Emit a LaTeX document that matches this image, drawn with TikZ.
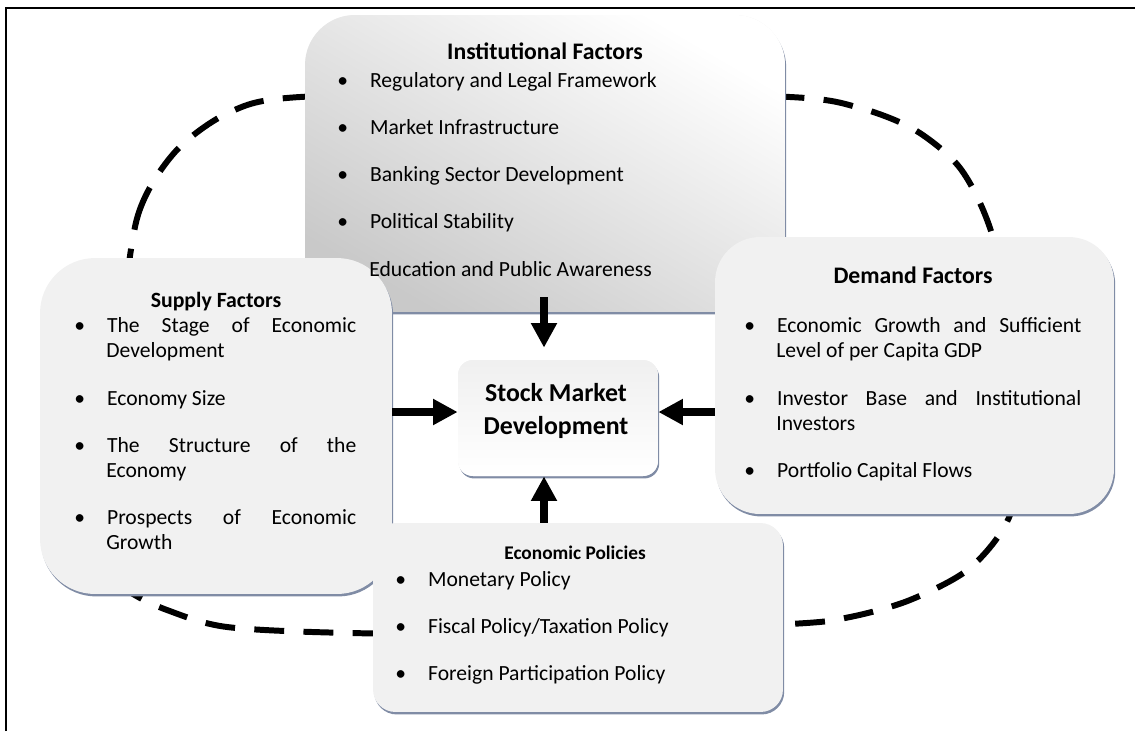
\documentclass[tikz,border=0pt]{standalone}
\usepackage{fontspec}
\setmainfont{Carlito}
\usepackage{enumitem}
\usetikzlibrary{shadows,calc,arrows.meta}

\definecolor{edgeblue}{RGB}{128,140,165}
\definecolor{panelgray}{RGB}{241,241,241}

\setlist[itemize]{label=\textbullet, leftmargin=0.64cm, labelwidth=0.2cm,
  labelsep=0.44cm, align=left, itemsep=12.4pt, parsep=0pt, topsep=0pt, partopsep=0pt}
\hyphenpenalty=10000
\exhyphenpenalty=10000

\newcommand{\bodysize}{\fontsize{12.3}{14.4}\selectfont}

\tikzset{
  panel/.style={rounded corners=0.9cm, fill=panelgray,
    general shadow={shadow xshift=0.7pt, shadow yshift=-1.4pt, fill=edgeblue}},
  ring/.style={line width=3.4pt, dash pattern=on 17pt off 11pt},
  bigarrow/.style={line width=4pt, -{Triangle[width=14pt,length=14pt]}},
  heading/.style={anchor=base, inner sep=0pt},
  itemlist/.style={anchor=north west, inner sep=0pt, align=justify, font=\bodysize}
}

\begin{document}
\begin{tikzpicture}[x=0.02cm, y=-0.02cm]
\useasboundingbox (0,0) rectangle (1135,731);

% Frame
\draw[line width=1.2pt] (6,731) -- (6,8) -- (1135,8);

% Dashed ring behind the boxes
\draw[ring] plot[smooth cycle] coordinates {
  (120,330) (138,215) (175,152) (230,112) (300,97) (545,92) (790,97)
  (860,108) (915,130) (960,168) (990,228) (1015,330) (1022,430)
  (1010,515) (970,568) (910,600) (850,617) (790,624) (545,634)
  (350,633) (227,627) (167,610) (130,592) (105,568) (93,545) (100,450)};

% Boxes
\node[panel, rounded corners=1cm, minimum width=9.6cm, minimum height=5.94cm,
  top color=white, bottom color=black!21, shading angle=-30] (inst) at (545,163.5) {};
\node[panel, rounded corners=1.1cm, minimum width=7.04cm, minimum height=6.72cm] (supply) at (216,426) {};
\node[panel, rounded corners=0.9cm, minimum width=7.98cm, minimum height=5.54cm] (demand) at (914.5,375.5) {};
\node[panel, rounded corners=0.45cm, minimum width=8.2cm, minimum height=3.78cm] (econ) at (578,617.5) {};
\node[panel, rounded corners=0.3cm, minimum width=4cm, minimum height=2.32cm,
  top color=gray!12, bottom color=white] (smd) at (558,418) {};
\node[align=center, inner sep=0pt, font=\bfseries\fontsize{14.7}{18.8}\selectfont]
  (smdlabel) at (556,411) {Stock Market\\Development};

% Arrows into the centre
\coordinate (hub) at (544,412);
\draw[bigarrow] ($(inst.south -| hub)+(0,-15)$) -- ($(smd.north -| hub)+(0,-12)$);
\draw[bigarrow] (supply.east |- hub) -- (smd.west |- hub);
\draw[bigarrow] (demand.west |- hub) -- (smd.east |- hub);
\draw[bigarrow] (econ.north -| hub) -- (smd.south -| hub);

% Institutional factors
\node[heading, font=\bfseries\fontsize{13.5}{16}\selectfont] (insttitle) at (545,59) {Institutional Factors};
\node[itemlist, text width=8cm] (instlist) at (337,62) {\begin{itemize}
  \item Regulatory and Legal Framework
  \item Market Infrastructure
  \item Banking Sector Development
  \item Political Stability
  \item[] Education and Public Awareness
\end{itemize}};

% Supply factors
\node[heading, font=\bfseries\fontsize{12.4}{15}\selectfont] (supplytitle) at (216,307) {Supply Factors};
\node[itemlist, text width=5.64cm] (supplylist) at (74,307) {\begin{itemize}
  \item The Stage of Economic\linebreak Development
  \item Economy Size
  \item The Structure of the\linebreak Economy
  \item Prospects of Economic\linebreak Growth
\end{itemize}};

% Demand factors
\node[heading, font=\bfseries\fontsize{13.5}{16}\selectfont] (demandtitle) at (913,283) {Demand Factors};
\node[itemlist, text width=6.74cm] (demandlist) at (744,307) {\begin{itemize}
  \item Economic Growth and Sufficient\linebreak Level of per Capita GDP
  \item Investor Base and Institutional\linebreak Investors
  \item Portfolio Capital Flows
\end{itemize}};

% Economic policies
\node[heading, font=\bfseries\fontsize{11}{13}\selectfont] (econtitle) at (575,559) {Economic Policies};
\node[itemlist, text width=6.74cm] (econlist) at (395,561) {\begin{itemize}
  \item Monetary Policy
  \item Fiscal Policy/Taxation Policy
  \item Foreign Participation Policy
\end{itemize}};
\end{tikzpicture}
\end{document}
